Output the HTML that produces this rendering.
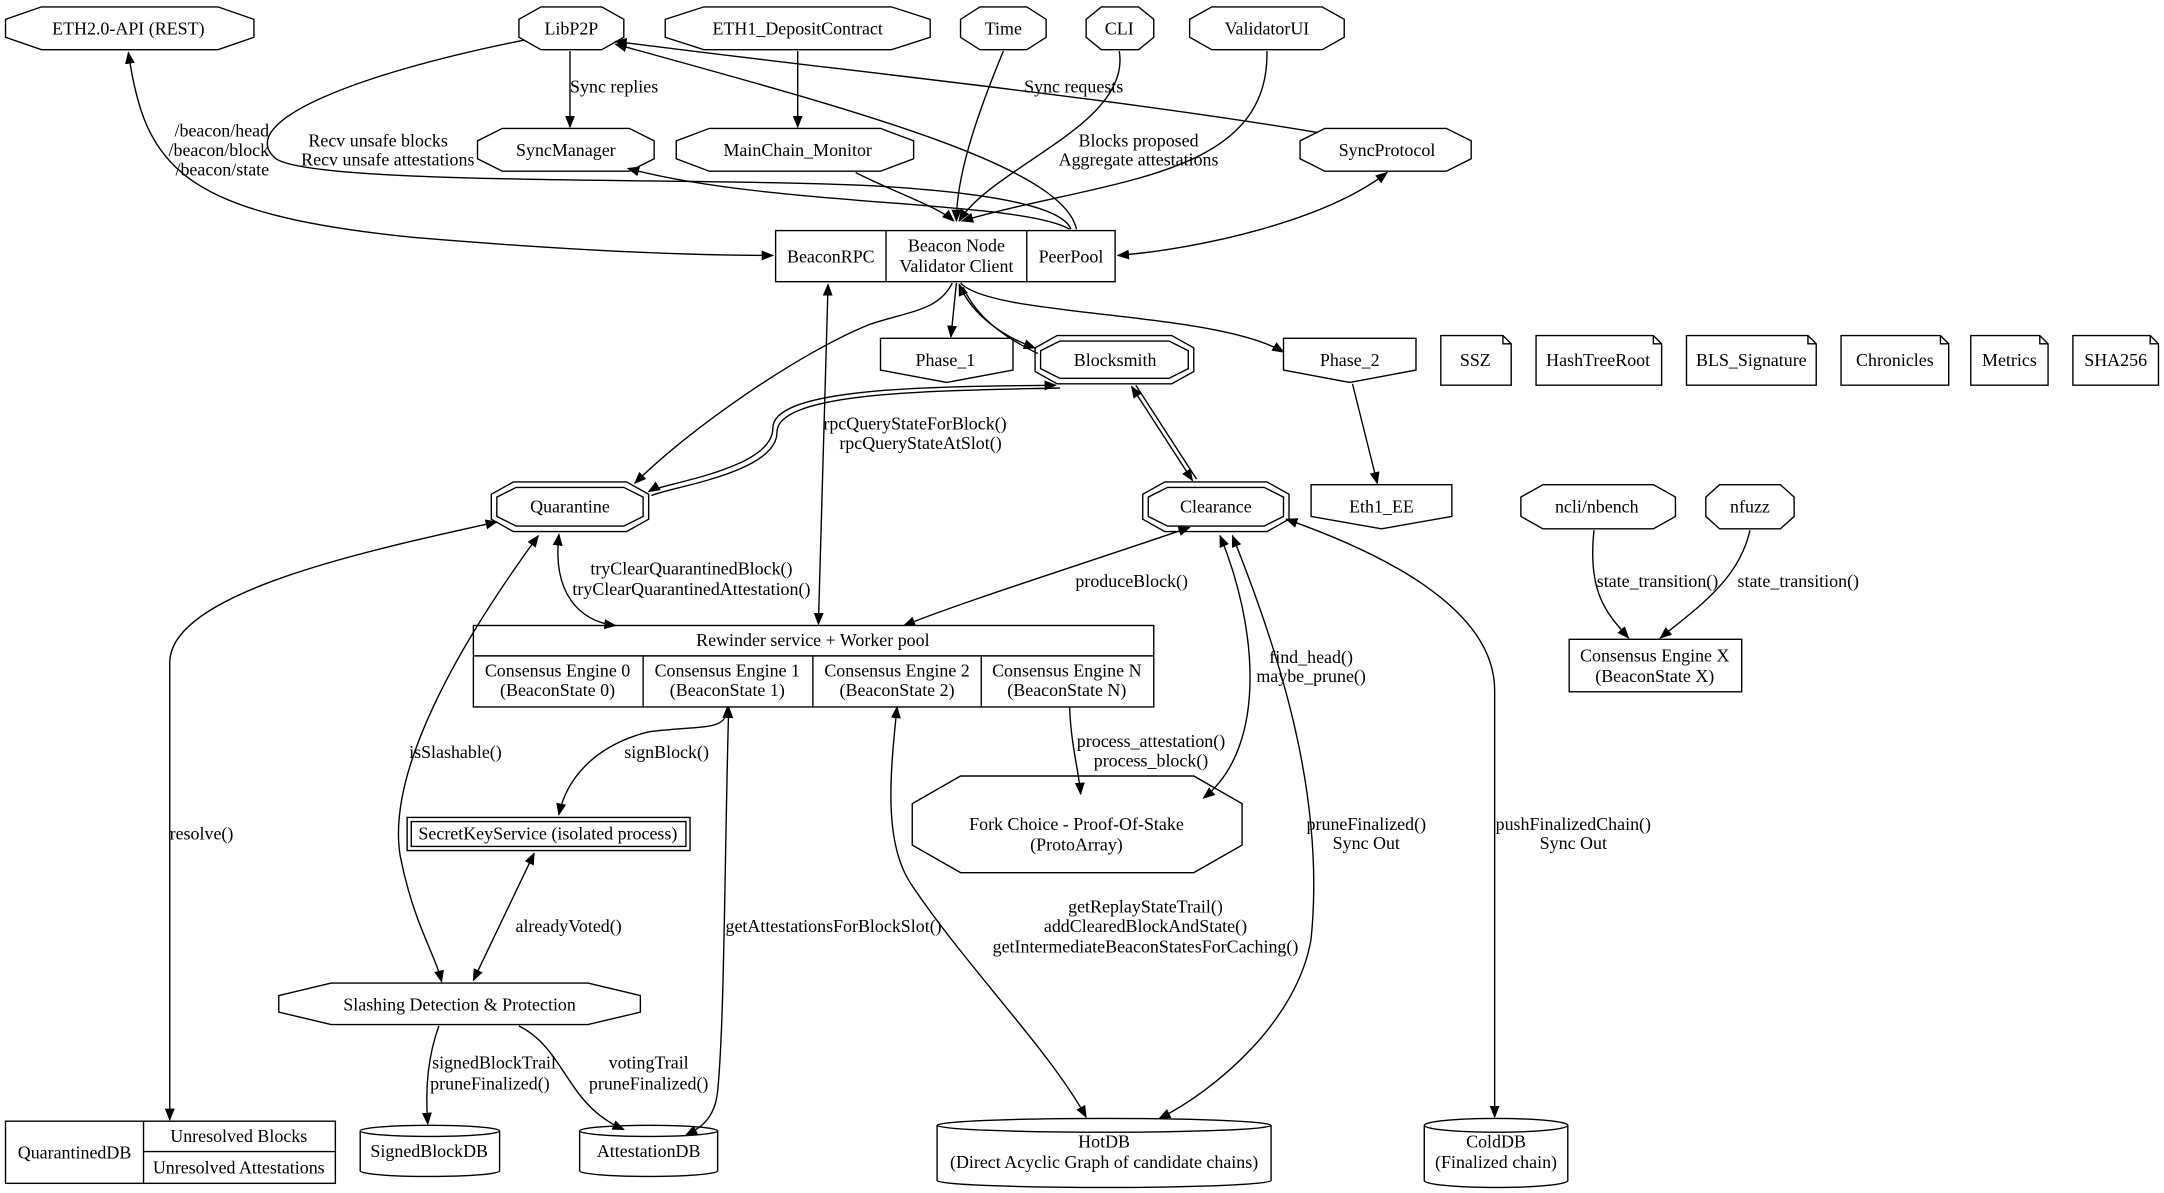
<!DOCTYPE html>
<html><head><meta charset="utf-8"><style>
html,body{margin:0;padding:0;background:#fff;}
svg{display:block;}
text{font-family:"Liberation Serif",serif;font-size:13px;fill:#000;}
</style></head><body>
<svg width="2164" height="1193" viewBox="0 0 1568 864" preserveAspectRatio="none" xmlns="http://www.w3.org/2000/svg">
<defs>
<marker id="a" viewBox="0 0 10 10" refX="9" refY="5" markerWidth="9" markerHeight="9" orient="auto-start-reverse" markerUnits="userSpaceOnUse"><path d="M0,1 L10,5 L0,9 z" fill="#000"/></marker>
</defs>
<rect width="1568" height="864" fill="#fff"/>
<g fill="none" stroke="#000" stroke-width="1">
<polygon points="30,5 158,5 184,14 184,27 158,36 30,36 4,27 4,14"/>
<polygon points="392,5 436,5 452,14 452,27 436,36 392,36 376,27 376,14"/>
<polygon points="510,5 646,5 674,14 674,27 646,36 510,36 482,27 482,14"/>
<polygon points="710,5 744,5 758,14 758,27 744,36 710,36 696,27 696,14"/>
<polygon points="798,5 825,5 836,14 836,27 825,36 798,36 787,27 787,14"/>
<polygon points="878,5 958,5 974,14 974,27 958,36 878,36 862,27 862,14"/>
<polygon points="364,93 456,93 474,102 474,115 456,124 364,124 346,115 346,102"/>
<polygon points="514,93 638,93 662,102 662,115 638,124 514,124 490,115 490,102"/>
<polygon points="960,93 1048,93 1066,102 1066,115 1048,124 960,124 942,115 942,102"/>
<polygon points="1118,351 1198,351 1214,360 1214,374 1198,383 1118,383 1102,374 1102,360"/>
<polygon points="1246,351 1290,351 1300,360 1300,374 1290,383 1246,383 1236,374 1236,360"/>
<polygon points="696,562 865,562 900,582 900,612 865,632 696,632 661,612 661,582"/>
<polygon points="240,712 426,712 464,721 464,733 426,742 240,742 202,733 202,721"/>
<polygon points="766,243 849,243 865,252 865,269 849,278 766,278 750,269 750,252"/>
<polygon points="768,247 847,247 861,254 861,267 847,274 768,274 754,267 754,254"/>
<polygon points="372,349 454,349 470,358 470,376 454,385 372,385 356,376 356,358"/>
<polygon points="374,353 452,353 466,360 466,374 452,381 374,381 360,374 360,360"/>
<polygon points="844,349 918,349 934,358 934,376 918,385 844,385 828,376 828,358"/>
<polygon points="846,353 916,353 930,360 930,374 916,381 846,381 832,374 832,360"/>
<polygon points="638,245 734,245 734,268 686,277 638,268"/>
<polygon points="930,245 1026,245 1026,268 978,277 930,268"/>
<polygon points="950,351 1052,351 1052,374 1001,383 950,374"/>
<path d="M1044,243 H1089 L1095,249 V279 H1044 Z M1089,243 V249 H1095"/>
<path d="M1113,243 H1198 L1204,249 V279 H1113 Z M1198,243 V249 H1204"/>
<path d="M1222,243 H1310 L1316,249 V279 H1222 Z M1310,243 V249 H1316"/>
<path d="M1334,243 H1406 L1412,249 V279 H1334 Z M1406,243 V249 H1412"/>
<path d="M1428,243 H1478 L1484,249 V279 H1428 Z M1478,243 V249 H1484"/>
<path d="M1502,243 H1558 L1564,249 V279 H1502 Z M1558,243 V249 H1564"/>
<rect x="562" y="167" width="246" height="37"/>
<line x1="642" y1="167" x2="642" y2="204"/><line x1="744" y1="167" x2="744" y2="204"/>
<rect x="343" y="453" width="493" height="59"/>
<line x1="343" y1="475" x2="836" y2="475"/>
<line x1="466" y1="475" x2="466" y2="512"/><line x1="589" y1="475" x2="589" y2="512"/><line x1="711" y1="475" x2="711" y2="512"/>
<rect x="1137" y="463" width="125" height="38"/>
<rect x="295" y="592" width="205" height="24"/><rect x="298" y="595" width="199" height="18"/>
<rect x="4" y="812" width="239" height="45"/>
<line x1="104" y1="812" x2="104" y2="857"/><line x1="104" y1="834" x2="243" y2="834"/>
<path d="M261,819 A50,4 0 0 1 362,819 V848 A50,4 0 0 1 261,848 Z M261,819 A50,4 0 0 0 362,819"/>
<path d="M420,819 A50,4 0 0 1 520,819 V848 A50,4 0 0 1 420,848 Z M420,819 A50,4 0 0 0 520,819"/>
<path d="M679,815 A121,5 0 0 1 921,815 V855 A121,5 0 0 1 679,855 Z M679,815 A121,5 0 0 0 921,815"/>
<path d="M1032,815 A52,5 0 0 1 1136,815 V855 A52,5 0 0 1 1032,855 Z M1032,815 A52,5 0 0 0 1136,815"/>
</g>
<g fill="none" stroke="#000" stroke-width="1">
<path d="M93,38 C105,120 130,155 300,172 C420,182 500,185 560,185" marker-start="url(#a)" marker-end="url(#a)"/>
<path d="M413,37 V92" marker-end="url(#a)"/>
<path d="M578,37 V92" marker-end="url(#a)"/>
<path d="M380,29 C250,55 170,90 200,115 C230,135 520,128 640,135 C720,140 770,150 776,166"/>
<path d="M780,166 C770,120 620,80 446,32" marker-end="url(#a)"/>
<path d="M775,166 C740,145 560,150 455,122" marker-end="url(#a)"/>
<path d="M955,96 C800,70 600,50 446,30" marker-end="url(#a)"/>
<path d="M1005,125 C960,160 870,180 810,185" marker-start="url(#a)" marker-end="url(#a)"/>
<path d="M727,37 C705,90 693,130 693,160" marker-end="url(#a)"/>
<path d="M811,37 C820,90 720,120 695,160" marker-end="url(#a)"/>
<path d="M918,37 C920,130 800,130 697,160" marker-end="url(#a)"/>
<path d="M620,125 C650,140 680,150 691,160" marker-end="url(#a)"/>
<path d="M693,205 L689,244" marker-end="url(#a)"/>
<path d="M695,206 C705,230 730,245 750,252" marker-start="url(#a)" marker-end="url(#a)"/>
<path d="M698,208 C708,232 733,247 752,256"/>
<path d="M696,205 C720,230 880,225 930,255" marker-end="url(#a)"/>
<path d="M690,205 C680,225 660,225 630,235 C580,255 500,310 460,350" marker-end="url(#a)"/>
<path d="M765,279 C680,280 560,280 560,310 C560,340 480,350 470,356" marker-start="url(#a)" marker-end="url(#a)"/>
<path d="M768,281 C683,283 563,283 563,313 C563,343 483,353 472,359"/>
<path d="M820,280 L864,348" marker-start="url(#a)" marker-end="url(#a)"/>
<path d="M823,279 L867,347"/>
<path d="M980,278 L998,350" marker-end="url(#a)"/>
<path d="M600,206 L593,452" marker-start="url(#a)" marker-end="url(#a)"/>
<path d="M405,387 C400,430 420,450 446,453" marker-start="url(#a)" marker-end="url(#a)"/>
<path d="M862,382 C780,410 700,435 655,453" marker-start="url(#a)" marker-end="url(#a)"/>
<path d="M360,378 C260,400 123,430 123,480 V811" marker-start="url(#a)" marker-end="url(#a)"/>
<path d="M390,388 C330,470 280,560 290,620 C300,670 315,690 320,711" marker-start="url(#a)" marker-end="url(#a)"/>
<path d="M527,512 C527,530 510,525 470,530 C430,540 410,565 405,590" marker-start="url(#a)" marker-end="url(#a)"/>
<path d="M387,618 L343,710" marker-start="url(#a)" marker-end="url(#a)"/>
<path d="M528,512 C525,620 525,740 520,790 C518,812 505,818 497,822" marker-start="url(#a)" marker-end="url(#a)"/>
<path d="M650,512 C645,560 640,610 660,640 C700,700 760,760 787,809" marker-start="url(#a)" marker-end="url(#a)"/>
<path d="M893,388 C930,480 960,580 950,680 C940,740 880,790 840,810" marker-start="url(#a)" marker-end="url(#a)"/>
<path d="M884,388 C910,450 920,540 872,578" marker-start="url(#a)" marker-end="url(#a)"/>
<path d="M775,512 C776,540 782,560 783,575" marker-end="url(#a)"/>
<path d="M932,376 C1000,400 1083,440 1083,500 V809" marker-start="url(#a)" marker-end="url(#a)"/>
<path d="M1155,384 C1150,430 1165,445 1180,462" marker-end="url(#a)"/>
<path d="M1268,384 C1260,420 1230,440 1203,462" marker-end="url(#a)"/>
<path d="M318,743 C310,765 308,790 310,814" marker-end="url(#a)"/>
<path d="M376,743 C410,760 410,800 452,818" marker-end="url(#a)"/>
</g>
<g text-anchor="middle">
<text x="93" y="25">ETH2.0-API (REST)</text>
<text x="414" y="25">LibP2P</text>
<text x="578" y="25">ETH1_DepositContract</text>
<text x="727" y="25">Time</text>
<text x="811" y="25">CLI</text>
<text x="918" y="25">ValidatorUI</text>
<text x="410" y="113">SyncManager</text>
<text x="578" y="113">MainChain_Monitor</text>
<text x="1005" y="113">SyncProtocol</text>
<text x="602" y="190">BeaconRPC</text>
<text x="693" y="182">Beacon Node</text>
<text x="693" y="197">Validator Client</text>
<text x="776" y="190">PeerPool</text>
<text x="685" y="265">Phase_1</text>
<text x="808" y="265">Blocksmith</text>
<text x="978" y="265">Phase_2</text>
<text x="1069" y="265">SSZ</text>
<text x="1158" y="265">HashTreeRoot</text>
<text x="1269" y="265">BLS_Signature</text>
<text x="1373" y="265">Chronicles</text>
<text x="1456" y="265">Metrics</text>
<text x="1533" y="265">SHA256</text>
<text x="413" y="371">Quarantine</text>
<text x="881" y="371">Clearance</text>
<text x="1001" y="371">Eth1_EE</text>
<text x="1157" y="371">ncli/nbench</text>
<text x="1268" y="371">nfuzz</text>
<text x="1199" y="479">Consensus Engine X</text>
<text x="1199" y="494">(BeaconState X)</text>
<text x="589" y="468">Rewinder service + Worker pool</text>
<text x="404" y="490">Consensus Engine 0</text><text x="404" y="504">(BeaconState 0)</text>
<text x="527" y="490">Consensus Engine 1</text><text x="527" y="504">(BeaconState 1)</text>
<text x="650" y="490">Consensus Engine 2</text><text x="650" y="504">(BeaconState 2)</text>
<text x="773" y="490">Consensus Engine N</text><text x="773" y="504">(BeaconState N)</text>
<text x="780" y="601">Fork Choice - Proof-Of-Stake</text>
<text x="780" y="616">(ProtoArray)</text>
<text x="397" y="608">SecretKeyService (isolated process)</text>
<text x="333" y="732">Slashing Detection &amp; Protection</text>
<text x="54" y="839">QuarantinedDB</text>
<text x="173" y="827">Unresolved Blocks</text>
<text x="173" y="850">Unresolved Attestations</text>
<text x="311" y="838">SignedBlockDB</text>
<text x="470" y="838">AttestationDB</text>
<text x="800" y="831">HotDB</text>
<text x="800" y="846">(Direct Acyclic Graph of candidate chains)</text>
<text x="1084" y="831">ColdDB</text>
<text x="1084" y="846">(Finalized chain)</text>
</g>
<g text-anchor="end">
<text x="195" y="99">/beacon/head</text>
<text x="195" y="113">/beacon/block</text>
<text x="195" y="127">/beacon/state</text>
</g>
<g text-anchor="middle">
<text x="445" y="67">Sync replies</text>
<text x="778" y="67">Sync requests</text>
<text x="274" y="106">Recv unsafe blocks</text>
<text x="281" y="120">Recv unsafe attestations</text>
<text x="825" y="106">Blocks proposed</text>
<text x="825" y="120">Aggregate attestations</text>
<text x="663" y="311">rpcQueryStateForBlock()</text>
<text x="667" y="325">rpcQueryStateAtSlot()</text>
<text x="501" y="416">tryClearQuarantinedBlock()</text>
<text x="501" y="431">tryClearQuarantinedAttestation()</text>
<text x="820" y="425">produceBlock()</text>
<text x="950" y="480">find_head()</text>
<text x="950" y="494">maybe_prune()</text>
<text x="834" y="541">process_attestation()</text>
<text x="834" y="555">process_block()</text>
<text x="330" y="549">isSlashable()</text>
<text x="483" y="549">signBlock()</text>
<text x="146" y="608">resolve()</text>
<text x="990" y="601">pruneFinalized()</text>
<text x="990" y="615">Sync Out</text>
<text x="1140" y="601">pushFinalizedChain()</text>
<text x="1140" y="615">Sync Out</text>
<text x="1201" y="425">state_transition()</text>
<text x="1303" y="425">state_transition()</text>
<text x="412" y="675">alreadyVoted()</text>
<text x="604" y="675">getAttestationsForBlockSlot()</text>
<text x="830" y="661">getReplayStateTrail()</text>
<text x="830" y="675">addClearedBlockAndState()</text>
<text x="830" y="690">getIntermediateBeaconStatesForCaching()</text>
<text x="358" y="774">signedBlockTrail</text>
<text x="355" y="789">pruneFinalized()</text>
<text x="470" y="774">votingTrail</text>
<text x="470" y="789">pruneFinalized()</text>
</g>
</svg>
</body></html>
